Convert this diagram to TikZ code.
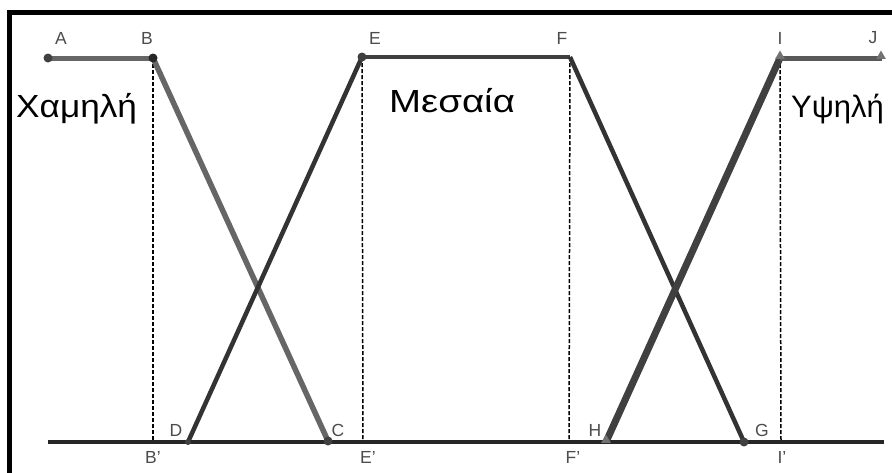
\documentclass[tikz,border=0pt]{standalone}
\usepackage{fontspec}
\setmainfont{Liberation Sans}
\usetikzlibrary{shapes.geometric}
\begin{document}
\begin{tikzpicture}[x=1pt,y=-1pt,
  lbl/.style={text=black!70, font=\fontsize{17.5}{20}\selectfont, inner sep=0pt},
  greek/.style={text=black, font=\fontsize{32}{36}\selectfont, inner sep=0pt, anchor=base west},
  guide/.style={draw=black, line width=1.5pt, dash pattern=on 4pt off 2pt},
  dotm/.style={circle, fill=black!75, inner sep=0pt, minimum size=9pt},
  trim/.style={regular polygon, regular polygon sides=3, fill=black!55, inner sep=0pt, minimum size=11pt},
]
\useasboundingbox (0,0) rectangle (892,472);
\clip (0,0) rectangle (892,472);
\fill[white] (0,0) rectangle (892,472);
% frame
\draw[line width=5pt, black] (9.5,480) -- (9.5,12.5) -- (900,12.5);
% points
\coordinate (A) at (48,58);
\coordinate (B) at (153,58);
\coordinate (C) at (328,441);
\coordinate (D) at (188,442);
\coordinate (E) at (362,57);
\coordinate (F) at (570,57);
\coordinate (G) at (744,442);
\coordinate (H) at (606,442);
\coordinate (I) at (780,58);
\coordinate (J) at (882,58);
\coordinate (Bp) at (153,442);
\coordinate (Ep) at (363,442);
\coordinate (Fp) at (569,442);
\coordinate (Ip) at (781,442);
\coordinate (L0) at (48,442);
\coordinate (L1) at (884,442);
% guides
\draw[guide] (B) -- (Bp);
\draw[guide] (E) -- (Ep);
\draw[guide] (F) -- (Fp);
\draw[guide] (I) -- (Ip);
% baseline
\draw[line width=3.5pt, black!85] (L0) -- (L1);
% membership lines
\draw[line width=5pt, black!60] (A) -- (B);
\draw[line width=5.5pt, black!60] (B) -- (C);
\draw[line width=4.5pt, black!80] (D) -- (E);
\draw[line width=4.5pt, black!75] (E) -- (F);
\draw[line width=4.5pt, black!80] (F) -- (G);
\draw[line width=7pt, black!75] (H) -- (I);
\draw[line width=5pt, black!65] (I) -- (J);
% markers
\node[dotm] (mA) at (A) {};
\node[dotm, fill=black!85] (mB) at (B) {};
\node[dotm] (mC) at (C) {};
\node[dotm, minimum size=6pt] (mD) at (D) {};
\node[dotm] (mE) at (E) {};
\node[dotm] (mG) at (G) {};
\node[trim] (mH) at (606,440) {};
\node[trim] (mI) at (780,56) {};
\node[trim] (mJ) at (881,56) {};
% labels
\node[lbl] (tA) at (61,38) {A};
\node[lbl] (tB) at (147,38) {B};
\node[lbl] (tE) at (375,38) {E};
\node[lbl] (tF) at (562,38) {F};
\node[lbl] (tI) at (780,38) {I};
\node[lbl] (tJ) at (873,38) {J};
\node[lbl] (tD) at (176,430) {D};
\node[lbl] (tC) at (338,430) {C};
\node[lbl] (tH) at (595,430) {H};
\node[lbl] (tG) at (762,430) {G};
\node[lbl] (tBp) at (153,457) {B'};
\node[lbl] (tEp) at (368,457) {E'};
\node[lbl] (tFp) at (573,457) {F'};
\node[lbl] (tIp) at (782,457) {I'};
% Greek labels
\node[greek, xscale=1.1] (low) at (16,117) {Χαμηλή};
\node[greek, xscale=1.2] (mid) at (389,112) {Μεσαία};
\node[greek, font=\fontsize{31}{34}\selectfont] (high) at (791,117) {Υψηλή};
\end{tikzpicture}
\end{document}
